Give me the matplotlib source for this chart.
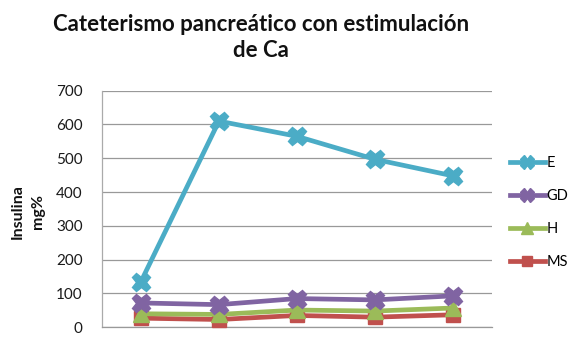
import matplotlib
matplotlib.use("Agg")
import matplotlib.pyplot as plt
from matplotlib.lines import Line2D

plt.rcParams['font.family'] = ['Lato', 'DejaVu Sans']

# Data
points = [1, 2, 3, 4, 5]
series_names = ["E", "GD", "H", "MS"]
e_vals = [135, 610, 565, 497, 448]
gd_vals = [72, 67, 85, 81, 93]
h_vals = [40, 38, 51, 48, 57]
ms_vals = [27, 23, 35, 30, 37]
y_ticks = [0, 100, 200, 300, 400, 500, 600, 700]

colors = {"E": "#4BACC6", "GD": "#8064A2", "H": "#9BBB59", "MS": "#C0504D"}
markers = {"E": "X", "GD": "X", "H": "^", "MS": "s"}
msizes = {"E": 13, "GD": 13, "H": 11, "MS": 9.5}
values = {"E": e_vals, "GD": gd_vals, "H": h_vals, "MS": ms_vals}

fig = plt.figure(figsize=(5.76, 3.38), dpi=100)
ax = fig.add_axes([0.177, 0.0317, 0.677, 0.700])

for z, name in enumerate(reversed(series_names)):
    ax.plot(points, values[name], color=colors[name], lw=3.4,
            marker=markers[name], markersize=msizes[name],
            markerfacecolor=colors[name], markeredgecolor=colors[name],
            zorder=3 + z, clip_on=False)

ax.set_xlim(0.5, 5.5)
ax.set_ylim(0, 700)
ax.set_yticks(y_ticks)
ax.set_xticks([])
ax.tick_params(axis='y', length=0, labelsize=11, pad=14, colors='#1a1a1a')
ax.yaxis.grid(True, color='#999999', lw=0.9)
ax.set_axisbelow(True)
for s in ['top', 'right']:
    ax.spines[s].set_visible(False)
ax.spines['left'].set_color('#aaaaaa')
ax.spines['bottom'].set_color('#999999')
ax.spines['left'].set_linewidth(0.9)
ax.spines['bottom'].set_linewidth(0.9)

fig.text(0.453, 0.89, "Cateterismo pancreático con estimulación\nde Ca",
         ha='center', va='center', fontsize=16, fontweight='bold',
         linespacing=1.3, color='#111111')

fig.text(0.030, 0.375, "Insulina", rotation=90, ha='center', va='center',
         fontsize=11.5, fontweight='bold', color='#111111')
fig.text(0.066, 0.375, "mg%", rotation=90, ha='center', va='center',
         fontsize=11.5, fontweight='bold', color='#111111')

handles = [Line2D([0], [0], color=colors[n], lw=3.4, marker=markers[n],
                  markersize=msizes[n] * 0.75, markerfacecolor=colors[n],
                  markeredgecolor=colors[n]) for n in series_names]
fig.legend(handles, series_names, loc='center left',
           bbox_to_anchor=(0.875, 0.372), frameon=False, fontsize=10.5,
           handlelength=2.4, handletextpad=0.1, labelspacing=1.3,
           borderaxespad=0)

fig.savefig("out.png", dpi=100)
